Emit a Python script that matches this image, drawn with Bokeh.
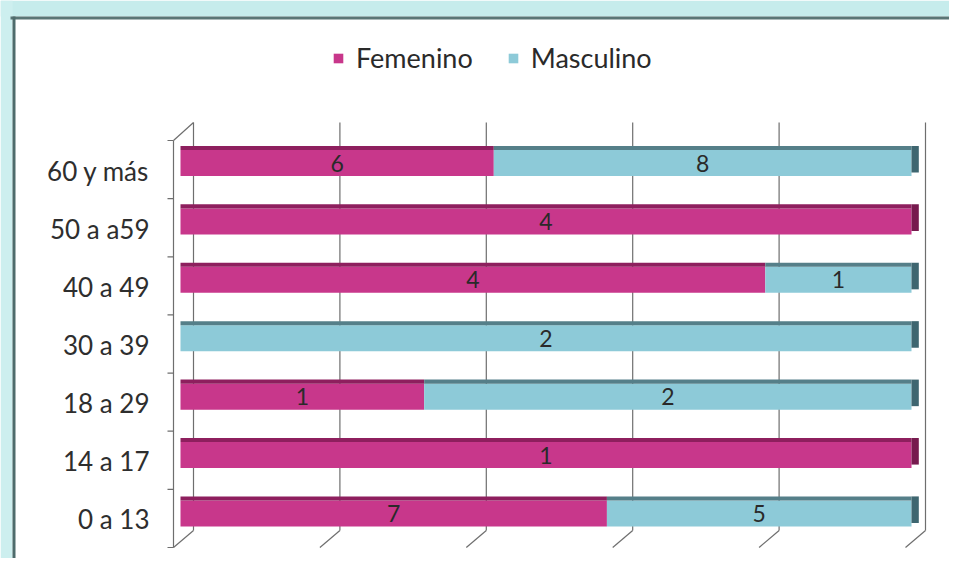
from bokeh.plotting import figure
from bokeh.models import Range1d, ColumnDataSource, Legend, LegendItem
from bokeh.embed import file_html
from bokeh.resources import INLINE
from bokeh.core.properties import value

# ---------------- data ----------------
categories = ["0 a 13", "14 a 17", "18 a 29", "30 a 39", "40 a 49", "50 a a59", "60 y más"]
femenino = [7, 1, 1, 0, 4, 4, 6]
masculino = [5, 0, 2, 2, 1, 0, 8]
x_ticks = [0, 20, 40, 60, 80, 100]
series = ["Femenino", "Masculino"]

# ---------------- styles ----------------
F_FRONT, F_TOP, F_CAP = "#C8378B", "#8E1F5E", "#761A4E"
M_FRONT, M_TOP, M_CAP = "#8DCAD8", "#557F89", "#3E6670"
GRID = "#6E6E6E"
FONT = "Lato"

W, H = 949, 558
SX0, SY0 = 0, 0                      # screen coords of the figure origin
SX1, SY1 = SX0 + W, SY0 + H


def rng(v0, s0, v1, s1, smin, smax):
    k = (s1 - s0) / (v1 - v0)
    return Range1d(start=v0 + (smin - s0) / k, end=v0 + (smax - s0) / k)


def xr(v0, s0, v1, s1):
    return rng(v0, s0, v1, s1, SX0, SX1)


def yr(v0, s0, v1, s1):
    return rng(v0, s0, v1, s1, SY1, SY0)


n = len(categories)

p = figure(width=W, height=H,
           x_range=Range1d(SX0, SX1), y_range=Range1d(SY1, SY0),
           output_backend="svg", toolbar_location=None,
           x_axis_location=None, y_axis_location=None,
           min_border=0, outline_line_color=None,
           background_fill_color="white", border_fill_color="white")
p.grid.visible = False

p.extra_x_ranges = {
    "pct": xr(0, 180, 100, 911),
}
p.extra_y_ranges = {
    "bar": yr(0, 513, n - 1, 162.5),
    "lab": yr(0, 518, n - 1, 170),
}

# ---------------- frame decoration ----------------
p.quad(left=[SX0], right=[SX1], top=[SY0], bottom=[16], fill_color="#C6ECEC", line_color=None)
p.quad(left=[SX0], right=[12], top=[SY0], bottom=[SY1], fill_color="#CDEFEF", line_color=None)
p.quad(left=[10], right=[SX1], top=[16], bottom=[19], fill_color="#5A7676", line_color=None)
p.quad(left=[12], right=[15], top=[16], bottom=[SY1], fill_color="#4E6C6C", line_color=None)

# ---------------- 3D walls / grid ----------------
BACK0, FRONT0, SPAN = 193, 173, 732
TOP_B, BOT_B, TOP_F, BOT_F = 122, 530, 140, 547
back_x = [BACK0 + t / 100 * SPAN for t in x_ticks]
front_x = [FRONT0 + t / 100 * SPAN for t in x_ticks]
p.segment(x0=back_x, y0=[BOT_B] * len(back_x), x1=back_x, y1=[TOP_B] * len(back_x),
          line_color=GRID, line_width=1.2)
p.segment(x0=back_x, y0=[BOT_B] * len(back_x), x1=front_x, y1=[BOT_F] * len(back_x),
          line_color=GRID, line_width=1.2)
# left wall front edge + top diagonal
p.segment(x0=[FRONT0, FRONT0], y0=[TOP_F, TOP_F], x1=[FRONT0, BACK0], y1=[BOT_F, TOP_B],
          line_color=GRID, line_width=1.2)
step = (BOT_F - TOP_F) / n
tick_y = [TOP_F + k * step for k in range(n + 1)]
p.segment(x0=[FRONT0 - 6] * len(tick_y), y0=tick_y, x1=[FRONT0] * len(tick_y), y1=tick_y,
          line_color=GRID, line_width=1.2)

# ---------------- bars ----------------
FACE = 0.445
TOPH = 0.07
ys = list(range(n))
tot = [f + m for f, m in zip(femenino, masculino)]
pf = [f / t * 100 for f, t in zip(femenino, tot)]

src_f = ColumnDataSource(dict(y=ys, left=[0] * n, right=pf,
                              b=[y + FACE / 2 for y in ys], t=[y + FACE / 2 + TOPH for y in ys]))
src_m = ColumnDataSource(dict(y=ys, left=pf, right=[100] * n,
                              b=[y + FACE / 2 for y in ys], t=[y + FACE / 2 + TOPH for y in ys]))

rf = p.hbar(y="y", left="left", right="right", height=FACE, source=src_f,
            fill_color=F_FRONT, line_color=None, x_range_name="pct", y_range_name="bar")
rm = p.hbar(y="y", left="left", right="right", height=FACE, source=src_m,
            fill_color=M_FRONT, line_color=None, x_range_name="pct", y_range_name="bar")
p.quad(left="left", right="right", bottom="b", top="t", source=src_f,
       fill_color=F_TOP, line_color=None, x_range_name="pct", y_range_name="bar")
p.quad(left="left", right="right", bottom="b", top="t", source=src_m,
       fill_color=M_TOP, line_color=None, x_range_name="pct", y_range_name="bar")

# right end caps
cap_col = [M_CAP if m > 0 else F_CAP for m in masculino]
p.quad(left=[100] * n, right=[101] * n,
       bottom=[y - FACE / 2 + 0.06 for y in ys], top=[y + FACE / 2 + TOPH for y in ys],
       fill_color=cap_col, line_color=None, x_range_name="pct", y_range_name="bar")

# ---------------- value labels ----------------
lx, ly, lt = [], [], []
for i in range(n):
    if femenino[i] > 0:
        lx.append(pf[i] / 2); ly.append(i); lt.append(str(femenino[i]))
    if masculino[i] > 0:
        lx.append((pf[i] + 100) / 2); ly.append(i); lt.append(str(masculino[i]))
p.text(x=lx, y=ly, text=lt, x_range_name="pct", y_range_name="bar",
       text_align="center", text_baseline="middle", text_font=value(FONT),
       text_font_size="23px", text_color="#2A2A2A")

# ---------------- category labels ----------------
p.text(x=[149] * n, y=ys, text=categories, y_range_name="lab",
       text_align="right", text_baseline="middle", text_font=value(FONT),
       text_font_size="26px", text_color="#2E2E2E")

# ---------------- legend ----------------
legend = Legend(items=[LegendItem(label=series[0], renderers=[rf]),
                       LegendItem(label=series[1], renderers=[rm])],
                orientation="horizontal", location=(332, 484),
                padding=0, margin=0, spacing=34, label_standoff=12,
                glyph_width=12, glyph_height=12,
                label_text_font=FONT, label_text_font_size="27px",
                label_text_color="#2A2A2A",
                background_fill_alpha=0, border_line_color=None)
p.add_layout(legend, "center")

open("out.html", "w").write(file_html(p, INLINE))
